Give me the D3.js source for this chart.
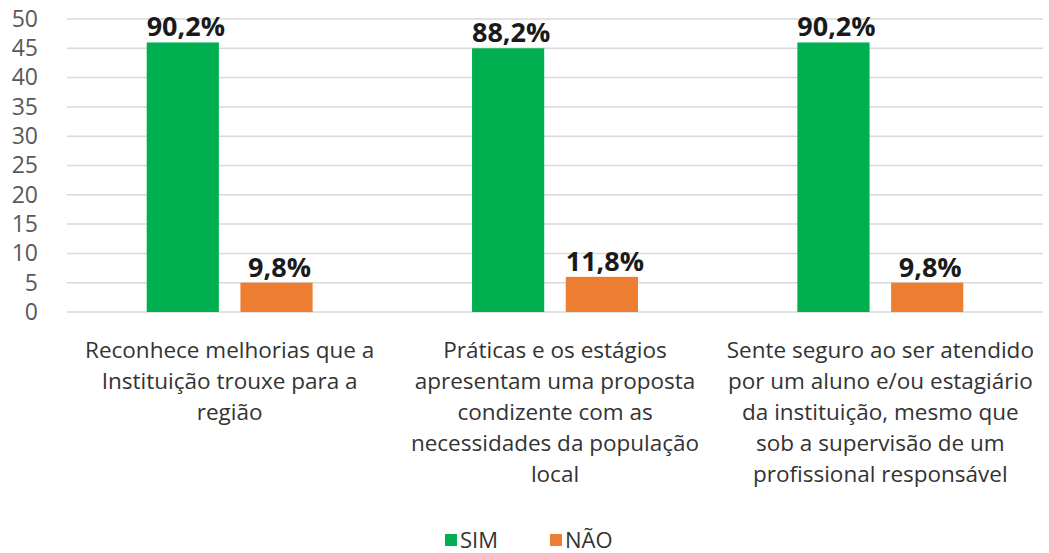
<!DOCTYPE html>
<html>
<head>
<meta charset="utf-8">
<script src="https://cdn.jsdelivr.net/npm/d3@7"></script>
<style>
  body { margin: 0; background: #fff; }
  svg text { font-family: "Open Sans", sans-serif; }
</style>
</head>
<body>
<svg width="1049" height="553"></svg>
<script>
// categories, one entry per line of the wrapped label
const categories = [
  ["Reconhece melhorias que a", "Instituição trouxe para a", "região"],
  ["Práticas e os estágios", "apresentam uma proposta", "condizente com as", "necessidades da população", "local"],
  ["Sente seguro ao ser atendido", "por um aluno e/ou estagiário", "da instituição, mesmo que", "sob a supervisão de um", "profissional responsável"]
];
const seriesNames = ["SIM", "NÃO"];
const simValues = [46, 45, 46];
const naoValues = [5, 6, 5];
const simLabels = ["90,2%", "88,2%", "90,2%"];
const naoLabels = ["9,8%", "11,8%", "9,8%"];
const yTicks = [0, 5, 10, 15, 20, 25, 30, 35, 40, 45, 50];
const colors = ["#00B050", "#ED7D31"];

const svg = d3.select("svg");
const margin = {left: 67, right: 6, top: 19, bottom: 241};
const width = 1049, height = 553;

let x0 = d3.scaleBand()
    .domain(d3.range(categories.length))
    .range([margin.left, width - margin.right])
    .paddingInner(0.49)
    .paddingOuter(0.245);

let x1 = d3.scaleBand()
    .domain(seriesNames)
    .range([0, x0.bandwidth()])
    .paddingInner(0.23);

let y = d3.scaleLinear()
    .domain([0, 50])
    .range([height - margin.bottom, margin.top]);

// gridlines
svg.append("g")
  .selectAll("line")
  .data(yTicks)
  .join("line")
    .attr("x1", margin.left)
    .attr("x2", width - margin.right)
    .attr("y1", d => y(d))
    .attr("y2", d => y(d))
    .attr("stroke", "#d9d9d9")
    .attr("stroke-width", 1.5);

// y axis labels
let yAxis = svg.append("g")
    .attr("transform", `translate(${margin.left - 29},0)`)
    .call(d3.axisLeft(y).tickValues(yTicks).tickSize(0).tickPadding(0));
yAxis.select(".domain").remove();
yAxis.selectAll("text")
    .attr("fill", "#595959")
    .attr("font-size", 23)
    .style("font-family", "'Open Sans', sans-serif");

const rows = categories.map((c, i) => ({i, values: [simValues[i], naoValues[i]], labels: [simLabels[i], naoLabels[i]]}));

let groups = svg.append("g")
  .selectAll("g")
  .data(rows)
  .join("g")
    .attr("transform", d => `translate(${x0(d.i)},0)`);

groups.selectAll("rect")
  .data(d => seriesNames.map((s, k) => ({s, k, v: d.values[k]})))
  .join("rect")
    .attr("x", d => x1(d.s))
    .attr("width", x1.bandwidth())
    .attr("y", d => y(d.v))
    .attr("height", d => y(0) - y(d.v))
    .attr("fill", d => colors[d.k]);

groups.selectAll("text")
  .data(d => seriesNames.map((s, k) => ({s, v: d.values[k], t: d.labels[k]})))
  .join("text")
    .attr("x", d => x1(d.s) + x1.bandwidth() / 2 + 3)
    .attr("y", d => y(d.v) - 6)
    .attr("text-anchor", "middle")
    .attr("font-size", 27)
    .attr("font-weight", "bold")
    .attr("fill", "#1a1a1a")
    .text(d => d.t);

// category labels
svg.append("g")
  .selectAll("text")
  .data(categories)
  .join("text")
    .attr("x", (d, i) => x0(i) + x0.bandwidth() / 2)
    .attr("y", 358)
    .attr("text-anchor", "middle")
    .attr("font-size", 22.5)
    .attr("fill", "#333")
    .each(function(lines) {
      d3.select(this).selectAll("tspan")
        .data(lines)
        .join("tspan")
          .attr("x", d3.select(this).attr("x"))
          .attr("dy", (l, j) => j === 0 ? 0 : 31)
          .text(l => l);
    });

// legend
let legend = svg.append("g").attr("transform", "translate(445,540)");
let item = legend.selectAll("g")
  .data(seriesNames)
  .join("g")
    .attr("transform", (d, i) => `translate(${i * 105},0)`);
item.append("rect")
    .attr("x", 0).attr("y", -6)
    .attr("width", 12).attr("height", 12)
    .attr("fill", (d, i) => colors[i]);
item.append("text")
    .attr("x", 15)
    .attr("dy", "0.35em")
    .attr("font-size", 22)
    .attr("fill", "#333")
    .text(d => d);
</script>
</body>
</html>
